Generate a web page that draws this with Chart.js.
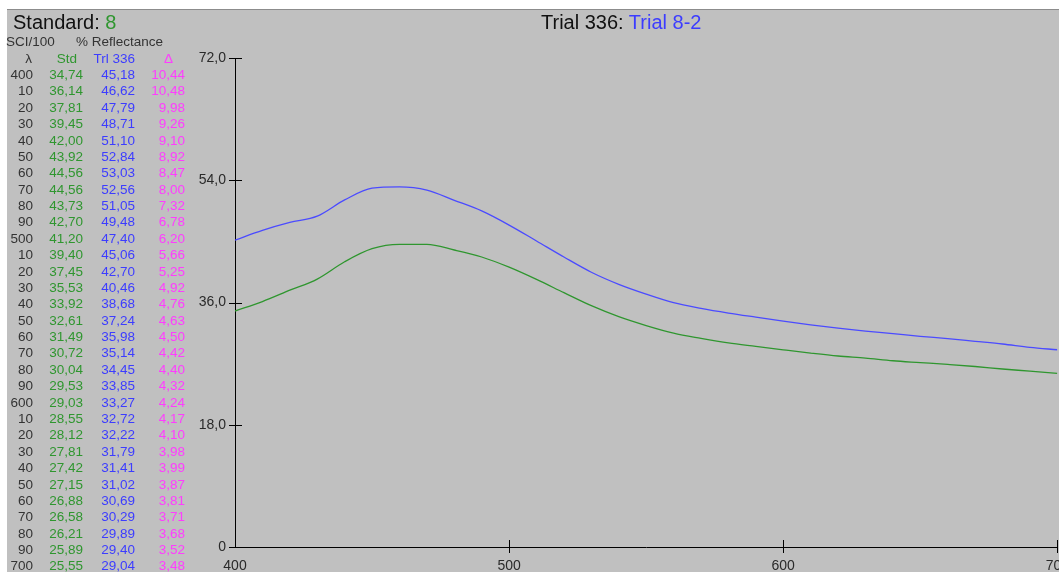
<!DOCTYPE html>
<html lang="en">
<head>
  <meta charset="UTF-8">
  <title>Standard 8 vs Trial 8-2 - % Reflectance</title>
  <script src="https://cdn.jsdelivr.net/npm/chart.js"></script>
  <style>
    html, body {
      margin: 0;
      width: 1059px;
      height: 572px;
      overflow: hidden;
      background: #fff;
      font-family: 'Liberation Sans', Arial, sans-serif;
    }
    .panel {
      position: absolute;
      left: 7px;
      top: 9px;
      right: 0;
      bottom: 0;
      background: #c0c0c0;
      border-top: 1px solid #8c8c8c;
    }
    #chartWrap {
      position: absolute;
      left: 0;
      top: 0;
    }
    .txt {
      position: absolute;
      white-space: nowrap;
      line-height: 1;
    }
    .big { font-size: 20px; color: #111; }
    .cell { font-size: 13.5px; text-align: right; }
    .green { color: #2f962f; }
    .blue { color: #3c3cff; }
    .pink { color: #ff3cff; }
    .grey { color: #333; }
  </style>
</head>
<body>
  <div class="panel"></div>
  <div id="chartWrap"><canvas id="specChart" width="1080" height="572"></canvas></div>
  <div class="txt big" style="left:13px; top:12px;">Standard: <span class="green">8</span></div>
  <div class="txt big" style="left:541px; top:12px;">Trial 336: <span class="blue">Trial 8-2</span></div>
  <div class="txt grey" style="left:6px; top:35px; font-size:13.5px;">SCI/100</div>
  <div class="txt grey" style="left:76px; top:35px; font-size:13.5px;">% Reflectance</div>
  <div id="table"></div>

  <script>
    const wavelengths = [400, 410, 420, 430, 440, 450, 460, 470, 480, 490,
                         500, 510, 520, 530, 540, 550, 560, 570, 580, 590,
                         600, 610, 620, 630, 640, 650, 660, 670, 680, 690, 700];
    const stdValues = [34.74, 36.14, 37.81, 39.45, 42.00, 43.92, 44.56, 44.56, 43.73, 42.70,
                       41.20, 39.40, 37.45, 35.53, 33.92, 32.61, 31.49, 30.72, 30.04, 29.53,
                       29.03, 28.55, 28.12, 27.81, 27.42, 27.15, 26.88, 26.58, 26.21, 25.89, 25.55];
    const trlValues = [45.18, 46.62, 47.79, 48.71, 51.10, 52.84, 53.03, 52.56, 51.05, 49.48,
                       47.40, 45.06, 42.70, 40.46, 38.68, 37.24, 35.98, 35.14, 34.45, 33.85,
                       33.27, 32.72, 32.22, 31.79, 31.41, 31.02, 30.69, 30.29, 29.89, 29.40, 29.04];
    const deltaValues = [10.44, 10.48, 9.98, 9.26, 9.10, 8.92, 8.47, 8.00, 7.32, 6.78,
                         6.20, 5.66, 5.25, 4.92, 4.76, 4.63, 4.50, 4.42, 4.40, 4.32,
                         4.24, 4.17, 4.10, 3.98, 3.99, 3.87, 3.81, 3.71, 3.68, 3.52, 3.48];
    const yTicks = [0, 18, 36, 54, 72];
    const xTicks = [400, 500, 600, 700];

    const GREEN = '#2f962f';
    const BLUE = '#4b4bff';

    const comma = (v, d) => v.toFixed(d).replace('.', ',');

    // left side table
    const table = document.getElementById('table');
    function addCell(text, cls, right, y, width) {
      const el = document.createElement('div');
      el.className = 'txt cell ' + cls;
      el.textContent = text;
      el.style.left = (right - width) + 'px';
      el.style.width = width + 'px';
      el.style.top = y + 'px';
      table.appendChild(el);
    }
    const rowTop = 68, rowH = 16.38;
    addCell('\u03bb', 'grey', 32, rowTop - rowH, 20);
    addCell('Std', 'green', 77, rowTop - rowH, 40);
    addCell('Trl 336', 'blue', 135, rowTop - rowH, 50);
    addCell('\u0394', 'pink', 173, rowTop - rowH, 20);
    wavelengths.forEach((w, i) => {
      const y = rowTop + i * rowH;
      addCell(w % 100 === 0 ? String(w) : String(w % 100), 'grey', 33, y, 30);
      addCell(comma(stdValues[i], 2), 'green', 83, y, 40);
      addCell(comma(trlValues[i], 2), 'blue', 135, y, 40);
      addCell(comma(deltaValues[i], 2), 'pink', 185, y, 40);
    });

    // tick marks crossing the axes, like the original
    const crossTicks = {
      id: 'crossTicks',
      afterDraw(chart) {
        const { ctx, scales: { x, y } } = chart;
        ctx.save();
        ctx.strokeStyle = '#000';
        ctx.lineWidth = 1;
        ctx.beginPath();
        y.ticks.forEach(t => {
          const py = Math.round(y.getPixelForValue(t.value)) + 0.5;
          ctx.moveTo(x.left - 6, py);
          ctx.lineTo(x.left + 7, py);
        });
        x.ticks.forEach(t => {
          if (t.value === x.min) return;
          const px = Math.round(x.getPixelForValue(t.value)) + 0.5;
          ctx.moveTo(px, y.bottom - 7);
          ctx.lineTo(px, y.bottom + 6);
        });
        ctx.stroke();
        ctx.restore();
      }
    };

    const ctx = document.getElementById('specChart').getContext('2d');
    new Chart(ctx, {
      type: 'line',
      data: {
        datasets: [
          {
            label: 'Trl 336',
            data: wavelengths.map((w, i) => ({ x: w, y: trlValues[i] })),
            borderColor: BLUE,
            borderWidth: 1.3,
            pointRadius: 0,
            cubicInterpolationMode: 'monotone'
          },
          {
            label: 'Std',
            data: wavelengths.map((w, i) => ({ x: w, y: stdValues[i] })),
            borderColor: GREEN,
            borderWidth: 1.3,
            pointRadius: 0,
            cubicInterpolationMode: 'monotone'
          }
        ]
      },
      options: {
        responsive: false,
        animation: false,
        devicePixelRatio: 1,
        layout: { padding: { top: 58, right: 14, left: 0, bottom: 0 } },
        plugins: {
          legend: { display: false },
          tooltip: { enabled: false }
        },
        scales: {
          x: {
            type: 'linear',
            min: 400,
            max: 700,
            afterBuildTicks: s => { s.ticks = xTicks.map(v => ({ value: v })); },
            afterFit: s => { s.height = 25; },
            grid: { display: false, drawTicks: false },
            border: { display: true, color: '#000', width: 1 },
            ticks: {
              padding: 11,
              color: '#2a2a2a',
              font: { family: 'Liberation Sans', size: 14 },
              maxRotation: 0
            }
          },
          y: {
            min: 0,
            max: 72,
            afterBuildTicks: s => { s.ticks = yTicks.map(v => ({ value: v })); },
            afterFit: s => { s.width = 235; },
            grid: { display: false, drawTicks: false },
            border: { display: true, color: '#000', width: 1 },
            ticks: {
              padding: 9,
              color: '#2a2a2a',
              font: { family: 'Liberation Sans', size: 14 },
              callback: v => v === 0 ? '0' : comma(v, 1)
            }
          }
        }
      },
      plugins: [crossTicks]
    });
  </script>
</body>
</html>
